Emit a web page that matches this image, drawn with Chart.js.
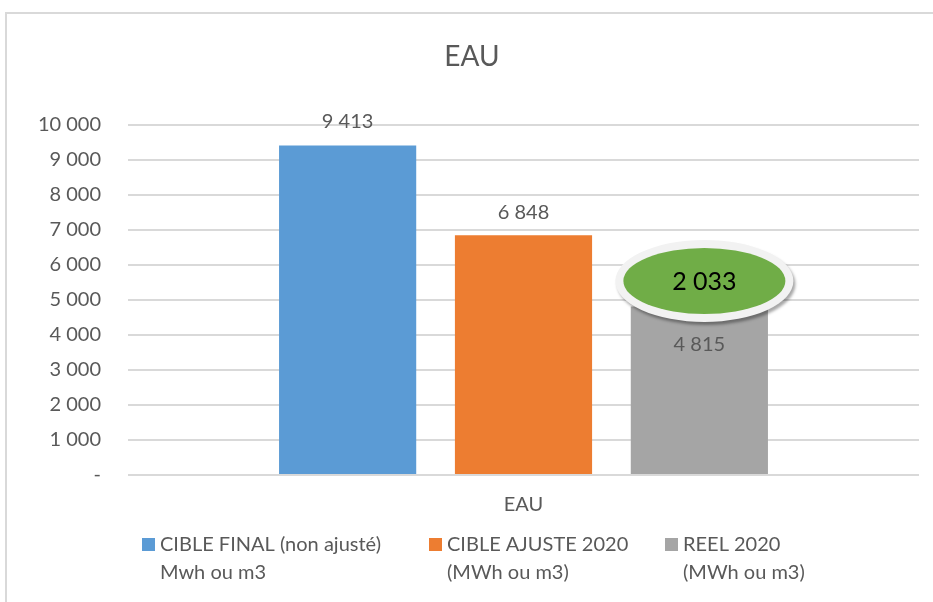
<!DOCTYPE html>
<html>
<head>
<meta charset="utf-8">
<script src="https://cdn.jsdelivr.net/npm/chart.js@4"></script>
<style>
  html, body { margin: 0; padding: 0; background: #fff; }
  #wrap { position: relative; width: 933px; height: 602px; overflow: hidden; }
  #frame { position: absolute; left: 5px; top: 12px; width: 960px; height: 620px; border: 2px solid #d9d9d9; box-sizing: border-box; }
  canvas { position: absolute; left: 0; top: 0; }
</style>
</head>
<body>
<div id="wrap">
  <div id="frame"></div>
  <canvas id="eauChart" width="933" height="602"></canvas>
</div>
<script>
// data
const categories = ["EAU"];
const seriesLabels = [
  ["CIBLE FINAL (non ajusté)", "Mwh ou m3"],
  ["CIBLE AJUSTE 2020", "(MWh ou m3)"],
  ["REEL 2020", "(MWh ou m3)"]
];
const cibleFinal = [9413];
const cibleAjuste = [6848];
const reel2020 = [4815];
const yTicks = [0, 1000, 2000, 3000, 4000, 5000, 6000, 7000, 8000, 9000, 10000];

const colors = ["#5b9bd5", "#ed7d31", "#a5a5a5"];
const textColor = "#595959";
const fontFamily = "Lato, 'Open Sans', sans-serif";

function fmt(v) {
  if (v === 0) return "-";
  return String(v).replace(/\B(?=(\d{3})+(?!\d))/g, " ");
}

// value labels + the green "gap" bubble
const labelOffsets = [-24, -23, 38];
const valueLabels = {
  id: "valueLabels",
  afterDatasetsDraw(chart) {
    const ctx = chart.ctx;
    ctx.save();

    const greyBar = chart.getDatasetMeta(2).data[0];
    const gap = cibleAjuste[0] - reel2020[0];
    const cx = greyBar.x + 5, cy = greyBar.y - 25.5;
    ctx.save();
    ctx.shadowColor = "rgba(0,0,0,0.35)";
    ctx.shadowOffsetX = 2;
    ctx.shadowOffsetY = 3;
    ctx.shadowBlur = 3;
    ctx.beginPath();
    ctx.ellipse(cx, cy, 89, 41, 0, 0, Math.PI * 2);
    ctx.fillStyle = "#f2f2f2";
    ctx.fill();
    ctx.restore();
    ctx.beginPath();
    ctx.ellipse(cx, cy, 81, 33, 0, 0, Math.PI * 2);
    ctx.fillStyle = "#70ad47";
    ctx.fill();
    ctx.font = "25px " + fontFamily;
    ctx.fillStyle = "#000";
    ctx.textAlign = "center";
    ctx.textBaseline = "middle";
    ctx.fillText(fmt(gap), cx, cy + 1);

    ctx.font = "20px " + fontFamily;
    ctx.fillStyle = textColor;
    chart.data.datasets.forEach((ds, i) => {
      chart.getDatasetMeta(i).data.forEach((bar, j) => {
        ctx.fillText(fmt(ds.data[j]), bar.x, bar.y + labelOffsets[i]);
      });
    });
    ctx.restore();
  }
};

// two-line legend at the bottom
const legendX = [142, 429, 665];
const twoLineLegend = {
  id: "twoLineLegend",
  afterDraw(chart) {
    const ctx = chart.ctx;
    ctx.save();
    ctx.font = "20px " + fontFamily;
    ctx.textAlign = "left";
    ctx.textBaseline = "middle";
    chart.data.datasets.forEach((ds, i) => {
      const x = legendX[i];
      ctx.fillStyle = ds.backgroundColor;
      ctx.fillRect(x, 538, 13, 13);
      ctx.fillStyle = textColor;
      ds.label.forEach((line, k) => ctx.fillText(line, x + 18, 545 + k * 28));
    });
    ctx.restore();
  }
};

new Chart(document.getElementById("eauChart"), {
  type: "bar",
  data: {
    labels: categories,
    datasets: [
      { label: seriesLabels[0], data: cibleFinal, backgroundColor: colors[0] },
      { label: seriesLabels[1], data: cibleAjuste, backgroundColor: colors[1] },
      { label: seriesLabels[2], data: reel2020, backgroundColor: colors[2] }
    ]
  },
  options: {
    responsive: false,
    animation: false,
    layout: { padding: { left: 25, right: 14, top: 0, bottom: 85 } },
    datasets: { bar: { categoryPercentage: 0.667, barPercentage: 0.78 } },
    scales: {
      x: {
        grid: { display: false, drawTicks: false },
        border: { display: false },
        ticks: { color: textColor, font: { family: fontFamily, size: 20 }, padding: 18 },
        afterFit(scale) { scale.height = 42; }
      },
      y: {
        min: 0,
        max: 10000,
        afterBuildTicks(scale) { scale.ticks = yTicks.map(v => ({ value: v })); },
        grid: { color: "#d9d9d9", lineWidth: 2, drawTicks: false },
        border: { display: false },
        ticks: { color: textColor, font: { family: fontFamily, size: 20 }, padding: 27, callback: v => fmt(v) },
        afterFit(scale) { scale.width = 103; }
      }
    },
    plugins: {
      title: {
        display: true,
        text: "EAU",
        color: textColor,
        font: { family: fontFamily, size: 28, weight: "normal" },
        padding: { top: 40, bottom: 51.4 }
      },
      legend: { display: false },
      tooltip: { enabled: false }
    }
  },
  plugins: [valueLabels, twoLineLegend]
});
</script>
</body>
</html>
